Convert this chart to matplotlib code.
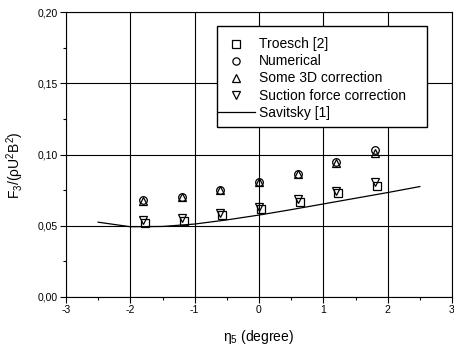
import matplotlib
matplotlib.use("Agg")
import matplotlib.pyplot as plt
from matplotlib.patches import Rectangle
from matplotlib.ticker import MultipleLocator, FixedLocator

plt.rcParams['font.family'] = ['Liberation Sans', 'DejaVu Sans']
plt.rcParams['mathtext.fontset'] = 'custom'
plt.rcParams['mathtext.rm'] = 'Liberation Sans'
plt.rcParams['mathtext.it'] = 'Liberation Sans:italic'
plt.rcParams['mathtext.default'] = 'regular'

# Trim angle (degrees) at which the computed cases were run
trim = [-1.8, -1.2, -0.6, 0.0, 0.6, 1.2, 1.8]
trim_troesch = [-1.77, -1.17, -0.57, 0.03, 0.63, 1.23, 1.83]

troesch = [0.0522, 0.0533, 0.0575, 0.0615, 0.0664, 0.0732, 0.0779]
numerical = [0.0678, 0.0705, 0.0752, 0.0810, 0.0866, 0.0948, 0.1030]
some_3d = [0.0674, 0.0701, 0.0749, 0.0806, 0.0861, 0.0940, 0.1010]
suction = [0.0540, 0.0557, 0.0587, 0.0634, 0.0688, 0.0742, 0.0805]

# Savitsky empirical curve
sav_trim = [-2.5, -2.0, -1.5, -1.0, -0.5, 0.0, 0.5, 1.0, 1.5, 2.0, 2.5]
savitsky = [0.0525, 0.0493, 0.0495, 0.0512, 0.0541, 0.0575, 0.0613, 0.0653, 0.0693, 0.0733, 0.0775]

x_ticks = [-3, -2, -1, 0, 1, 2, 3]
x_tick_labels = ['-3', '-2', '-1', '0', '1', '2', '3']
y_ticks = [0.00, 0.05, 0.10, 0.15, 0.20]
y_tick_labels = ['0,00', '0,05', '0,10', '0,15', '0,20']

fig = plt.figure(figsize=(4.54, 3.45), dpi=100)
ax = fig.add_axes([66 / 454, 48 / 345, 386 / 454, 285 / 345])

mk = dict(linestyle='none', markerfacecolor='none', markeredgecolor='black',
          markeredgewidth=0.9, markersize=5.5)
ax.plot(trim_troesch, troesch, marker='s', label='Troesch [2]', **mk)
ax.plot(trim, numerical, marker='o', label='Numerical', **mk)
ax.plot(trim, some_3d, marker='^', label='Some 3D correction', **mk)
ax.plot(trim, suction, marker='v', label='Suction force correction', **mk)
ax.plot(sav_trim, savitsky, color='black', linewidth=0.9, label='Savitsky [1]')

ax.set_xlim(-3, 3)
ax.set_ylim(0, 0.20)
ax.xaxis.set_major_locator(FixedLocator(x_ticks))
ax.set_xticklabels(x_tick_labels)
ax.yaxis.set_major_locator(FixedLocator(y_ticks))
ax.set_yticklabels(y_tick_labels)
ax.xaxis.set_minor_locator(MultipleLocator(0.5))
ax.yaxis.set_minor_locator(MultipleLocator(0.025))
ax.tick_params(which='major', direction='out', length=4, width=0.8, labelsize=7.5,
               colors='black', pad=2)
ax.tick_params(which='minor', direction='out', length=2, width=0.8)

ax.grid(True, which='major', color='black', linewidth=0.8)
ax.set_axisbelow(True)
for s in ax.spines.values():
    s.set_linewidth(0.8)
    s.set_color('black')

ax.set_xlabel('η$_5$ (degree)', fontsize=10, labelpad=9)
ax.set_ylabel('F$_3$/(ρU$^2$B$^2$)', fontsize=10)
ax.yaxis.set_label_coords(-0.104, 0.463)

# legend box drawn as its own rectangle, entries placed inside it
box = Rectangle((0.391, 0.596), 0.544, 0.354, transform=ax.transAxes,
                facecolor='white', edgecolor='black', linewidth=1.0, zorder=4)
ax.add_patch(box)
leg = ax.legend(loc='upper left', bbox_to_anchor=(0.393, 0.911), borderaxespad=0,
                fontsize=10, frameon=False, handlelength=2.65, handletextpad=0.3,
                labelspacing=0.22, borderpad=0, markerscale=0.95)
leg.set_zorder(5)

fig.savefig('out.png', dpi=100)
